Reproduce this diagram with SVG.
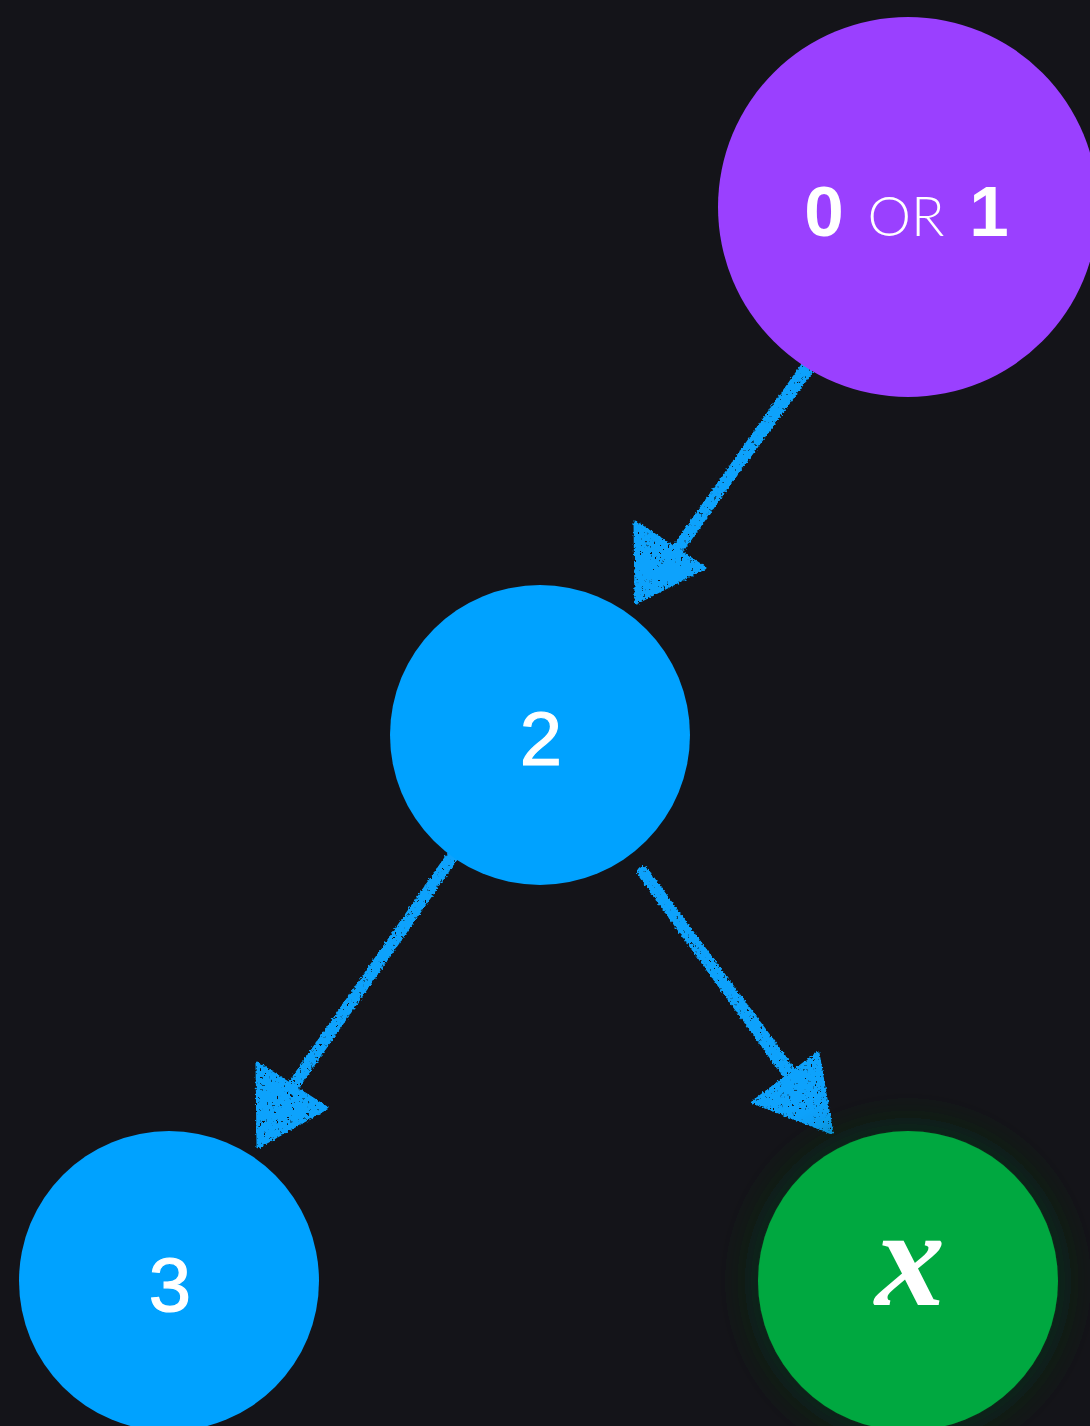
<svg xmlns="http://www.w3.org/2000/svg" width="1090" height="1426" viewBox="0 0 1090 1426">
  <style>
    .lbl { fill: #ffffff; font-family: "Liberation Sans", Arial, sans-serif; text-anchor: middle; }
    .num { stroke: #ffffff; stroke-width: 1.2; }
    .edge { stroke: #0aa2fc; stroke-linecap: round; stroke-linejoin: round; fill: none; }
    .head { fill: #0aa2fc; stroke: #0aa2fc; stroke-width: 3; stroke-linejoin: round; }
  </style>
  <defs>
    <!-- rough chalk-like texture for the hand-drawn connectors -->
    <filter id="rough" x="-10%" y="-10%" width="120%" height="120%">
      <feTurbulence type="fractalNoise" baseFrequency="0.7 0.25" numOctaves="2" seed="4" result="noise"/>
      <feColorMatrix in="noise" type="matrix" values="0 0 0 0 0  0 0 0 0 0  0 0 0 0 0  0 0 0 10 -6.8" result="holes"/>
      <feComposite in="SourceGraphic" in2="holes" operator="out" result="cut"/>
      <feTurbulence type="fractalNoise" baseFrequency="0.5" numOctaves="1" seed="9" result="jit"/>
      <feDisplacementMap in="cut" in2="jit" scale="4" xChannelSelector="R" yChannelSelector="G"/>
    </filter>
    <filter id="glow" x="-40%" y="-40%" width="180%" height="180%">
      <feDropShadow dx="0" dy="0" stdDeviation="22" flood-color="#0a3a18" flood-opacity="0.9"/>
    </filter>
  </defs>

  <rect width="1090" height="1426" fill="#141419"/>

  <g id="connectors" filter="url(#rough)">
    <g id="edge-root-2">
      <path class="edge" stroke-width="12" d="M806 368 L672 557"/>
      <path class="edge" stroke-width="6" d="M810 371 L677 553"/>
      <polygon class="head" points="635,522 705,568 636,603"/>
    </g>
    <g id="edge-2-3">
      <path class="edge" stroke-width="12" d="M452 857 L291 1089"/>
      <path class="edge" stroke-width="6" d="M448 861 L295 1085"/>
      <polygon class="head" points="257,1063 327,1108 258,1147"/>
    </g>
    <g id="edge-2-x">
      <path class="edge" stroke-width="12" d="M643 872 L790 1076"/>
      <path class="edge" stroke-width="6" d="M648 875 L794 1072"/>
      <polygon class="head" points="818,1053 753,1102 832,1133"/>
    </g>
  </g>

  <g id="node-root">
    <circle cx="908" cy="207" r="190" fill="#9a40ff"/>
    <text class="lbl" y="236"><tspan x="824" font-size="71" font-weight="bold">0</tspan><tspan x="906" font-size="55" font-family="Lato, 'Liberation Sans', sans-serif" font-weight="300">OR</tspan><tspan x="989" font-size="71" font-weight="bold">1</tspan></text>
  </g>

  <g id="node-2">
    <circle cx="540" cy="735" r="150" fill="#00a2ff"/>
    <text class="lbl num" x="541" y="765" font-size="76">2</text>
  </g>

  <g id="node-3">
    <circle cx="169" cy="1281" r="150" fill="#00a2ff"/>
    <text class="lbl num" x="170" y="1311" font-size="76">3</text>
  </g>

  <g id="node-x">
    <circle cx="908" cy="1281" r="150" fill="#00a83f" filter="url(#glow)"/>
    <text x="910" y="1305" font-family="'Liberation Serif', 'Times New Roman', serif" font-style="italic" font-weight="bold" font-size="140" fill="#ffffff" text-anchor="middle">x</text>
  </g>
</svg>
